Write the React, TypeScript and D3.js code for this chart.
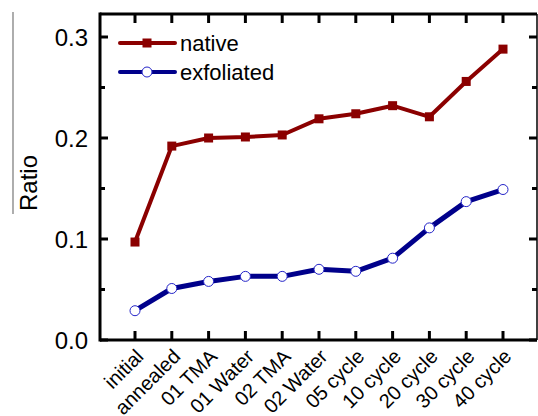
import React from "react";
import * as d3 from "d3";

const categories = ["initial", "annealed", "01 TMA", "01 Water", "02 TMA", "02 Water", "05 cycle", "10 cycle", "20 cycle", "30 cycle", "40 cycle"];
const nativeValues = [0.097, 0.192, 0.2, 0.201, 0.203, 0.219, 0.224, 0.232, 0.221, 0.256, 0.288];
const exfoliatedValues = [0.029, 0.051, 0.058, 0.063, 0.063, 0.070, 0.068, 0.081, 0.111, 0.137, 0.149];
const yTicks = [0.0, 0.1, 0.2, 0.3];
const yMinorTicks = [0.05, 0.15, 0.25];

const W = 538, H = 416;
const L = 100, R = 537, T = 14, B = 340;
const RED = "#8b0000";
const BLUE = "#00008b";
const FONT = "'Liberation Sans', Arial, sans-serif";

export default function App() {
  const x = d3.scaleLinear().domain([0, 10]).range([135, 503]);
  const y = d3.scaleLinear().domain([0, 0.3]).range([B, 37]);
  const line = d3.line<number>().x((_, i) => x(i)).y((d) => y(d));

  return (
    <svg width={W} height={H} style={{ position: "absolute", left: 0, top: 0, background: "#fff" }}>
      <rect x={0} y={0} width={W} height={H} fill="#fff" />
      {/* frame */}
      <line x1={L} x2={L} y1={T - 1.5} y2={B + 1.5} stroke="#000" strokeWidth={3} />
      <line x1={L} x2={R} y1={T} y2={T} stroke="#000" strokeWidth={3} />
      <line x1={L} x2={R} y1={B} y2={B} stroke="#000" strokeWidth={3} />
      <line x1={R} x2={R} y1={T} y2={B} stroke="#000" strokeWidth={1.5} />
      {/* x ticks */}
      {categories.map((c, i) => (
        <g key={c}>
          <line x1={x(i)} x2={x(i)} y1={B} y2={B - 9} stroke="#000" strokeWidth={3} />
          <line x1={x(i)} x2={x(i)} y1={T} y2={T + 9} stroke="#000" strokeWidth={3} />
          <text
            transform={`translate(${x(i) + 6},${B + 14}) rotate(-45)`}
            textAnchor="end"
            dominantBaseline="middle"
            fontFamily={FONT}
            fontSize={20}
            fill="#000"
          >
            {c}
          </text>
        </g>
      ))}
      {/* y ticks */}
      {yTicks.map((t) => (
        <g key={t}>
          <line x1={L} x2={L + 8} y1={y(t)} y2={y(t)} stroke="#000" strokeWidth={3} />
          <line x1={R} x2={R - 8} y1={y(t)} y2={y(t)} stroke="#000" strokeWidth={3} />
          <text x={88} y={y(t)} textAnchor="end" dominantBaseline="central" fontFamily={FONT} fontSize={24} fill="#000">
            {d3.format(".1f")(t)}
          </text>
        </g>
      ))}
      {yMinorTicks.map((t) => (
        <g key={t}>
          <line x1={L} x2={L + 5} y1={y(t)} y2={y(t)} stroke="#000" strokeWidth={3} />
          <line x1={R} x2={R - 5} y1={y(t)} y2={y(t)} stroke="#000" strokeWidth={3} />
        </g>
      ))}
      {/* y label */}
      <line x1={13} x2={13} y1={12} y2={214} stroke="#777" strokeWidth={1.2} />
      <text transform={`translate(37,183) rotate(-90)`} textAnchor="middle" fontFamily={FONT} fontSize={24} fill="#000">
        Ratio
      </text>
      {/* series */}
      <path d={line(nativeValues) || ""} fill="none" stroke={RED} strokeWidth={4} strokeLinejoin="round" />
      {nativeValues.map((v, i) => (
        <rect key={i} x={x(i) - 4.5} y={y(v) - 4.5} width={9} height={9} fill={RED} />
      ))}
      <path d={line(exfoliatedValues) || ""} fill="none" stroke={BLUE} strokeWidth={5} strokeLinejoin="round" />
      {exfoliatedValues.map((v, i) => (
        <circle key={i} cx={x(i)} cy={y(v)} r={5} fill="#fff" stroke="#2424c8" strokeWidth={1} />
      ))}
      {/* legend */}
      <line x1={120} x2={175} y1={43} y2={43} stroke={RED} strokeWidth={4} strokeLinecap="round" />
      <rect x={147 - 4.5} y={43 - 4.5} width={9} height={9} fill={RED} />
      <text x={180} y={51} fontFamily={FONT} fontSize={22} fill="#000">native</text>
      <line x1={120} x2={175} y1={72} y2={72} stroke={BLUE} strokeWidth={4} strokeLinecap="round" />
      <circle cx={147} cy={72} r={5} fill="#fff" stroke="#2424c8" strokeWidth={1} />
      <text x={180} y={80} fontFamily={FONT} fontSize={22} fill="#000">exfoliated</text>
    </svg>
  );
}
